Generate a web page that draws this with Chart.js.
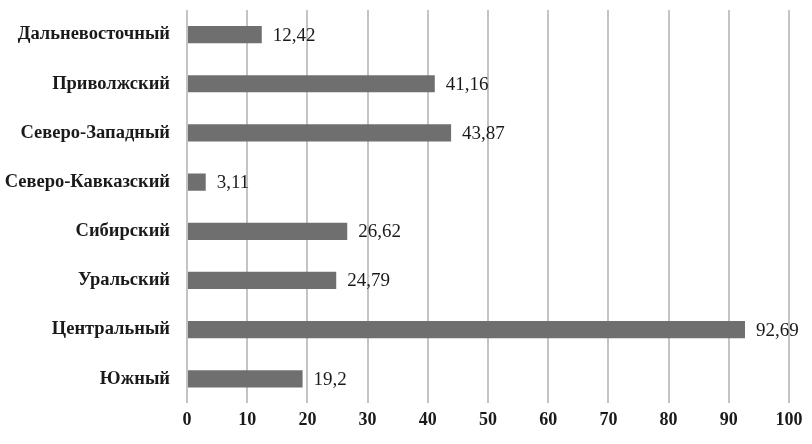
<!DOCTYPE html>
<html>
<head>
<meta charset="utf-8">
<script src="https://cdn.jsdelivr.net/npm/chart.js@4"></script>
<style>
  html, body { margin: 0; padding: 0; background: #fff; }
  #wrap { width: 812px; height: 444px; }
</style>
</head>
<body>
<div id="wrap"><canvas id="chart" width="812" height="444"></canvas></div>
<script>
// данные по федеральным округам
const regions = ['Дальневосточный', 'Приволжский', 'Северо-Западный', 'Северо-Кавказский',
                 'Сибирский', 'Уральский', 'Центральный', 'Южный'];
const values = [12.42, 41.16, 43.87, 3.11, 26.62, 24.79, 92.69, 19.2];
const valueLabels = ['12,42', '41,16', '43,87', '3,11', '26,62', '24,79', '92,69', '19,2'];

const FONT = '"Liberation Serif", "DejaVu Serif", serif';

// подписи значений справа от столбцов
const barLabels = {
    id: 'barLabels',
    afterDatasetsDraw(chart) {
        const ctx = chart.ctx;
        const meta = chart.getDatasetMeta(0);
        ctx.save();
        ctx.font = '19px ' + FONT;
        ctx.fillStyle = '#1a1a1a';
        ctx.textAlign = 'left';
        ctx.textBaseline = 'middle';
        meta.data.forEach((bar, i) => {
            ctx.fillText(valueLabels[i], bar.x + 11, bar.y + 1);
        });
        ctx.restore();
    }
};

new Chart(document.getElementById('chart'), {
    type: 'bar',
    data: {
        labels: regions,
        datasets: [{
            data: values,
            backgroundColor: '#6f6f6f',
            borderWidth: 0,
            categoryPercentage: 1,
            barPercentage: 0.35
        }]
    },
    options: {
        indexAxis: 'y',
        responsive: false,
        animation: false,
        layout: { padding: { top: 10, right: 23, bottom: 7, left: 0 } },
        plugins: {
            legend: { display: false },
            tooltip: { enabled: false }
        },
        scales: {
            x: {
                min: 0,
                max: 100,
                ticks: {
                    stepSize: 10,
                    padding: 6,
                    color: '#1a1a1a',
                    font: { family: FONT, size: 18, weight: 'bold' }
                },
                grid: { color: '#c4c4c4', lineWidth: 2, drawTicks: false },
                border: { display: false }
            },
            y: {
                afterFit(scale) {
                    scale.width = 187;
                    scale.paddingTop = 0;
                    scale.paddingBottom = 0;
                },
                ticks: {
                    padding: 17,
                    color: '#1a1a1a',
                    font: { family: FONT, size: 18.5, weight: 'bold' }
                },
                grid: { display: false, drawTicks: false },
                border: { display: false }
            }
        }
    },
    plugins: [barLabels]
});
</script>
</body>
</html>
